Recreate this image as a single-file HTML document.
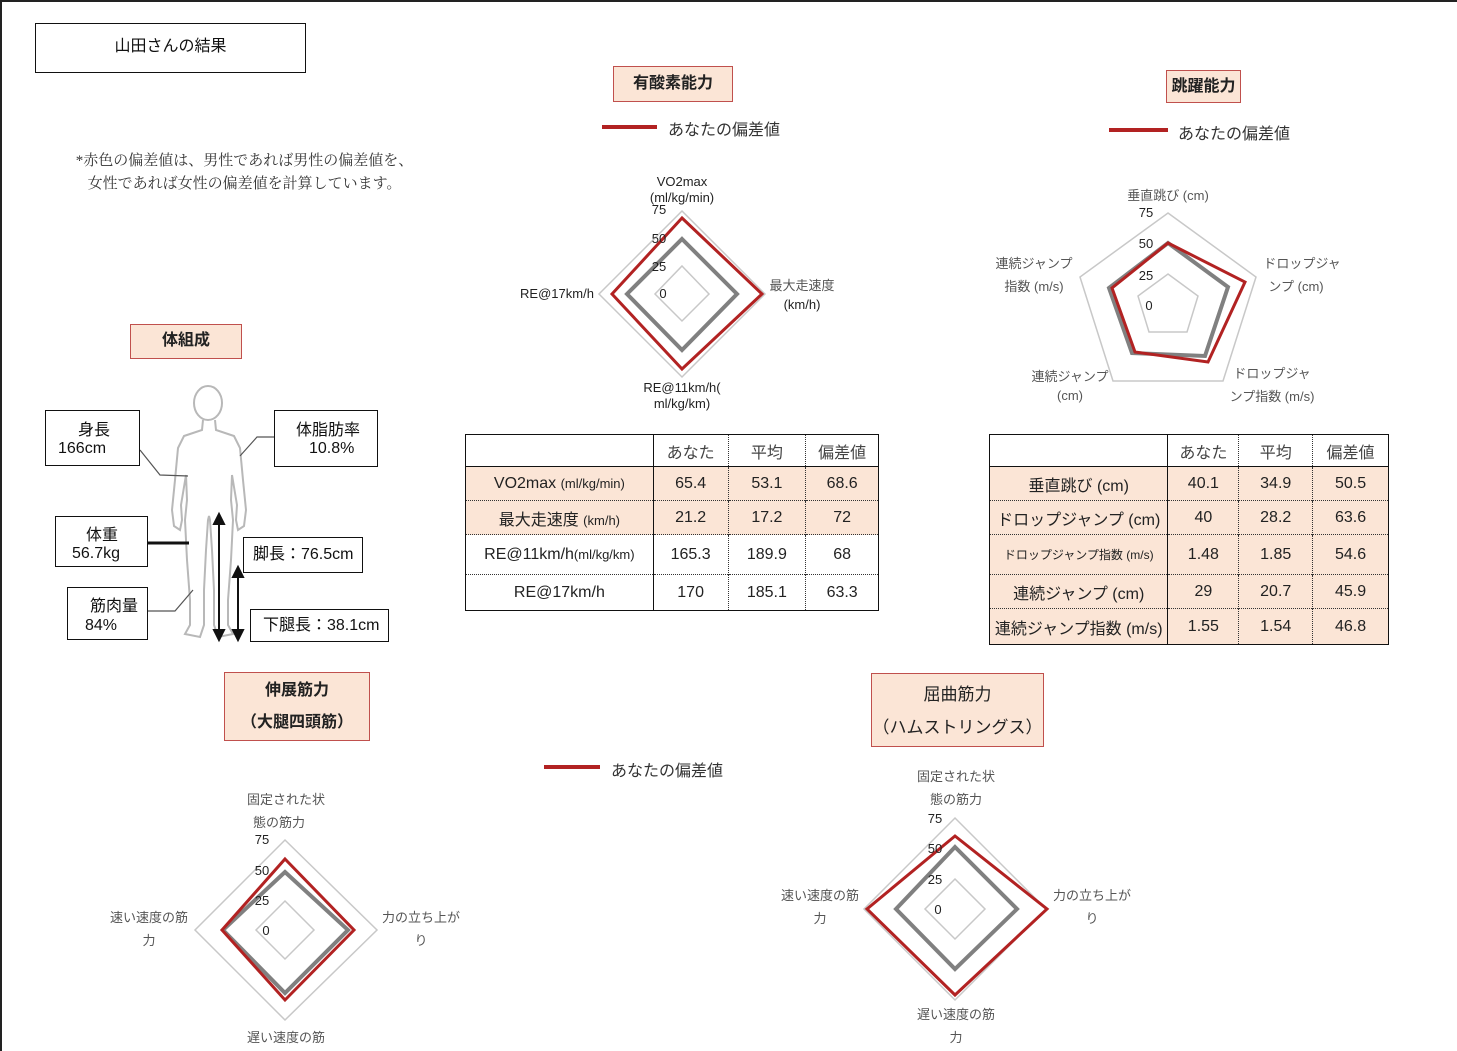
<!DOCTYPE html>
<html><head><meta charset="utf-8"><style>
body{margin:0;width:1457px;height:1051px;position:relative;background:#fff;overflow:hidden;font-family:"Liberation Sans","Noto Sans CJK JP",sans-serif;color:#111}
.a{position:absolute}
.box{position:absolute;border:1.5px solid #111;background:#fff;box-sizing:border-box}
.tt{position:absolute;background:#fbe5d6;border:1.5px solid #c0504d;box-sizing:border-box;text-align:center;font-size:16px;font-weight:bold;color:#222}
table{position:absolute;border-collapse:collapse;font-size:16px;color:#222}
td{border-left:1.5px dotted #333;border-top:1.5px dotted #333;text-align:center;padding:0}
td:first-child{border-left:1.5px solid #111;border-right:1.5px solid #111}
tr:first-child td{border-top:none;border-bottom:1.5px solid #111;color:#444}
.pe td{background:#fbe5d6}
</style></head><body>
<div class="a" style="left:0;top:0;width:1457px;height:2px;background:#222"></div>
<div class="a" style="left:0;top:0;width:2px;height:1051px;background:#222"></div>
<div class="box" style="left:35px;top:23px;width:271px;height:50px;font-size:16px;text-align:center;line-height:46px">山田さんの結果</div>
<div class="a" style="left:62px;top:150px;font-family:'Liberation Serif','Noto Serif CJK SC',serif;font-size:15px;line-height:23px;color:#333;text-align:center;width:365px">*赤色の偏差値は、男性であれば男性の偏差値を、<br>女性であれば女性の偏差値を計算しています。</div>

<div class="tt" style="left:613px;top:66px;width:120px;height:36px;line-height:33px">有酸素能力</div>
<div class="tt" style="left:1166px;top:70px;width:75px;height:33px;line-height:31px">跳躍能力</div>
<div class="tt" style="left:130px;top:324px;width:112px;height:35px;line-height:32px">体組成</div>
<div class="tt" style="left:224px;top:672px;width:146px;height:69px;line-height:32px;padding-top:2px">伸展筋力<br>（大腿四頭筋）</div>
<div class="tt" style="left:871px;top:673px;width:173px;height:74px;line-height:33px;padding-top:4px;font-weight:normal;font-size:17px">屈曲筋力<br>（ハムストリングス）</div>

<div class="a" style="left:668px;top:116px;font-size:16px;color:#333">あなたの偏差値</div>
<div class="a" style="left:1178px;top:120px;font-size:16px;color:#333">あなたの偏差値</div>
<div class="a" style="left:611px;top:757px;font-size:16px;color:#333">あなたの偏差値</div>

<svg class="a" style="left:0;top:0" width="1457" height="1051" font-family="Liberation Sans, Noto Sans CJK JP, sans-serif">
<g stroke="#b22222" stroke-width="4"><line x1="602" y1="127" x2="657" y2="127"/><line x1="1109" y1="130" x2="1168" y2="130"/><line x1="544" y1="767" x2="600" y2="767"/></g>

<!-- chart 1 -->
<g fill="none">
<polygon points="682,211 765,294 682,377 599,294" stroke="#c8c8c8" stroke-width="1.5"/>
<polygon points="682,266 709,294 682,321 655,294" stroke="#c8c8c8" stroke-width="1.5"/>
<polygon points="682,239 737,294 682,350 627,294" stroke="#808080" stroke-width="4"/>
<polygon points="682,218 762,294 682,369 612,294" stroke="#b22222" stroke-width="3"/>
</g>
<g font-size="13" fill="#222" text-anchor="middle">
<text x="682" y="186">VO2max</text><text x="682" y="202">(ml/kg/min)</text>
<text x="659" y="214">75</text><text x="659" y="243">50</text><text x="659" y="271">25</text><text x="663" y="298">0</text>
<text x="557" y="298">RE@17km/h</text>
<text x="802" y="290" fill="#555">最大走速度</text><text x="802" y="309">(km/h)</text>
<text x="682" y="392">RE@11km/h(</text><text x="682" y="408">ml/kg/km)</text>
</g>

<!-- chart 2 pentagon -->
<g fill="none">
<polygon points="1168,213 1256,277 1223,381 1113,381 1080,277" stroke="#c8c8c8" stroke-width="1.5"/>
<polygon points="1168,274 1198,296 1187,332 1149,332 1138,296" stroke="#c8c8c8" stroke-width="1.5"/>
<polygon points="1168,243 1228,287 1205,356 1132,353 1109,288" stroke="#808080" stroke-width="4"/>
<polygon points="1168,243 1245,282 1208,362 1135,352 1112,288" stroke="#b22222" stroke-width="3"/>
</g>
<g font-size="13" fill="#555" text-anchor="middle">
<text x="1168" y="200">垂直跳び (cm)</text>
<text x="1146" y="217" fill="#222">75</text><text x="1146" y="248" fill="#222">50</text><text x="1146" y="280" fill="#222">25</text><text x="1149" y="310" fill="#222">0</text>
<text x="1034" y="268">連続ジャンプ</text><text x="1034" y="291">指数 (m/s)</text>
<text x="1302" y="268">ドロップジャ</text><text x="1296" y="291">ンプ (cm)</text>
<text x="1070" y="381">連続ジャンプ</text><text x="1070" y="400">(cm)</text>
<text x="1272" y="378">ドロップジャ</text><text x="1272" y="401">ンプ指数 (m/s)</text>
</g>

<!-- chart 3 -->
<g fill="none">
<polygon points="285,840 377,930 285,1020 195,930" stroke="#c8c8c8" stroke-width="1.5"/>
<polygon points="285,901 314,930 285,959 256,930" stroke="#c8c8c8" stroke-width="1.5"/>
<polygon points="285,872 348,930 285,993 223,930" stroke="#808080" stroke-width="4"/>
<polygon points="285,859 354,930 285,1000 222,930" stroke="#b22222" stroke-width="3"/>
</g>
<g font-size="13" fill="#555" text-anchor="middle">
<text x="286" y="804">固定された状</text><text x="279" y="827">態の筋力</text>
<text x="262" y="844" fill="#222">75</text><text x="262" y="875" fill="#222">50</text><text x="262" y="905" fill="#222">25</text><text x="266" y="935" fill="#222">0</text>
<text x="149" y="922">速い速度の筋</text><text x="149" y="945">力</text>
<text x="421" y="922">力の立ち上が</text><text x="421" y="945">り</text>
<text x="286" y="1042">遅い速度の筋</text>
</g>

<!-- chart 4 -->
<g fill="none">
<polygon points="955,818 1046,909 955,1000 864,909" stroke="#c8c8c8" stroke-width="1.5"/>
<polygon points="955,879 985,909 955,939 925,909" stroke="#c8c8c8" stroke-width="1.5"/>
<polygon points="955,847 1017,909 955,969 896,909" stroke="#808080" stroke-width="4"/>
<polygon points="955,836 1047,909 955,995 867,909" stroke="#b22222" stroke-width="3"/>
</g>
<g font-size="13" fill="#555" text-anchor="middle">
<text x="956" y="781">固定された状</text><text x="956" y="804">態の筋力</text>
<text x="935" y="823" fill="#222">75</text><text x="935" y="853" fill="#222">50</text><text x="935" y="884" fill="#222">25</text><text x="938" y="914" fill="#222">0</text>
<text x="820" y="900">速い速度の筋</text><text x="820" y="923">力</text>
<text x="1092" y="900">力の立ち上が</text><text x="1092" y="923">り</text>
<text x="956" y="1019">遅い速度の筋</text><text x="956" y="1042">力</text>
</g>

<!-- body -->
<g fill="none" stroke="#b8b8b8" stroke-width="2">
<ellipse cx="208" cy="403" rx="14" ry="17"/>
<polyline points="203,420 202,430 184,436 178,448 175,480 172,510 174,526 180,530 182,520 181,505 186,475 187,500 185,520 187,560 190,600 190,625 185,634 200,637 204,625 204,590 206,550 208,520 209,516 210,520 212,550 214,590 214,625 218,637 233,634 228,625 228,600 231,560 233,520 231,500 232,475 237,505 236,520 238,530 244,526 246,510 243,480 240,448 234,436 216,430 215,420"/>
</g>
<g stroke="#555" stroke-width="1.2" fill="none">
<polyline points="140,450 160,475 188,476"/>
<polyline points="274,437 257,437 240,456"/>
<polyline points="148,611 175,611 193,590"/>
</g>
<line x1="148" y1="543" x2="189" y2="543" stroke="#111" stroke-width="3"/>
<g stroke="#111" stroke-width="2" fill="#111">
<line x1="219" y1="522" x2="219" y2="632"/><polygon points="214,524 224,524 219,514"/><polygon points="214,630 224,630 219,640"/>
<line x1="238" y1="575" x2="238" y2="632"/><polygon points="233,577 243,577 238,567"/><polygon points="233,630 243,630 238,640"/>
</g>
</svg>

<div class="box" style="left:45px;top:410px;width:95px;height:56px;font-size:16px"><div class="a" style="left:32px;top:5px">身長</div><div class="a" style="left:12px;top:29px">166cm</div></div>
<div class="box" style="left:274px;top:410px;width:104px;height:57px;font-size:16px"><div class="a" style="left:21px;top:5px">体脂肪率</div><div class="a" style="left:34px;top:29px">10.8%</div></div>
<div class="box" style="left:55px;top:516px;width:93px;height:51px;font-size:16px"><div class="a" style="left:30px;top:4px">体重</div><div class="a" style="left:16px;top:28px">56.7kg</div></div>
<div class="box" style="left:67px;top:587px;width:81px;height:53px;font-size:16px"><div class="a" style="left:22px;top:4px">筋肉量</div><div class="a" style="left:17px;top:29px">84%</div></div>
<div class="box" style="left:243px;top:537px;width:120px;height:36px;font-size:16px;line-height:33px;padding-left:9px">脚長：76.5cm</div>
<div class="box" style="left:250px;top:609px;width:139px;height:33px;font-size:16px;line-height:31px;padding-left:12px">下腿長：38.1cm</div>

<table style="left:465px;top:434px;width:414px;border:1.5px solid #111">
<colgroup><col style="width:188px"><col style="width:75px"><col style="width:78px"><col style="width:73px"></colgroup>
<tr style="height:32px"><td></td><td>あなた</td><td>平均</td><td>偏差値</td></tr>
<tr class="pe" style="height:34px"><td>VO2max <span style="font-size:13px">(ml/kg/min)</span></td><td>65.4</td><td>53.1</td><td>68.6</td></tr>
<tr class="pe" style="height:34px"><td>最大走速度 <span style="font-size:13px">(km/h)</span></td><td>21.2</td><td>17.2</td><td>72</td></tr>
<tr style="height:40px"><td>RE@11km/h<span style="font-size:13px">(ml/kg/km)</span></td><td>165.3</td><td>189.9</td><td>68</td></tr>
<tr style="height:36px"><td>RE@17km/h</td><td>170</td><td>185.1</td><td>63.3</td></tr>
</table>

<table style="left:989px;top:434px;width:400px;border:1.5px solid #111">
<colgroup><col style="width:179px"><col style="width:71px"><col style="width:74px"><col style="width:76px"></colgroup>
<tr style="height:32px"><td></td><td>あなた</td><td>平均</td><td>偏差値</td></tr>
<tr class="pe" style="height:34px"><td>垂直跳び (cm)</td><td>40.1</td><td>34.9</td><td>50.5</td></tr>
<tr class="pe" style="height:34px"><td>ドロップジャンプ (cm)</td><td>40</td><td>28.2</td><td>63.6</td></tr>
<tr class="pe" style="height:40px"><td style="font-size:12px">ドロップジャンプ指数 (m/s)</td><td>1.48</td><td>1.85</td><td>54.6</td></tr>
<tr class="pe" style="height:34px"><td>連続ジャンプ (cm)</td><td>29</td><td>20.7</td><td>45.9</td></tr>
<tr class="pe" style="height:36px"><td>連続ジャンプ指数 (m/s)</td><td>1.55</td><td>1.54</td><td>46.8</td></tr>
</table>
</body></html>
